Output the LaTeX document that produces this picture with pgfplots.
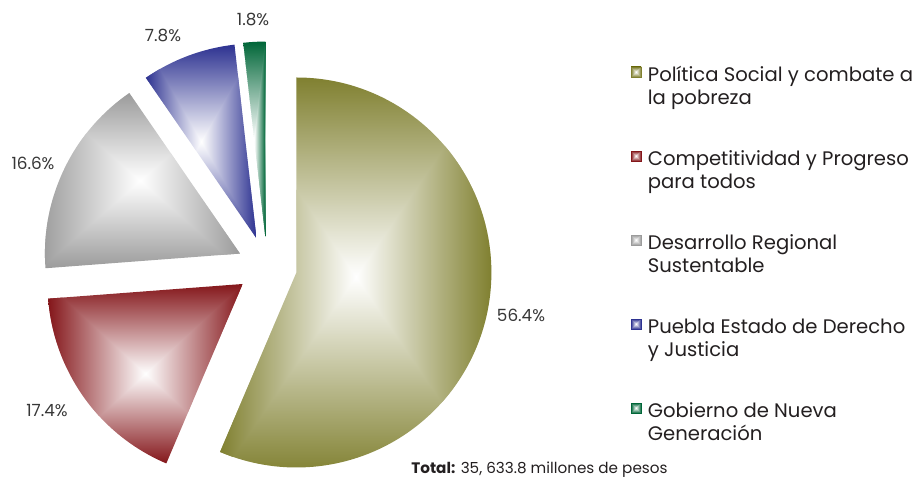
\documentclass[border=0pt]{standalone}
\usepackage{pgfplots}
\pgfplotsset{compat=1.18}
\usepackage{pgfplotstable}
\usepackage{fontspec}
\setmainfont{Poppins}

\definecolor{cA}{RGB}{128,128,48}
\definecolor{cB}{RGB}{132,22,26}
\definecolor{cC}{RGB}{155,155,155}
\definecolor{cD}{RGB}{45,50,145}
\definecolor{cE}{RGB}{0,102,56}
\definecolor{txt}{RGB}{35,31,32}
\definecolor{lab}{RGB}{55,55,55}

\newcommand\labfont{\fontsize{8.4bp}{10bp}\selectfont}
\newcommand\legfont{\fontsize{9.8bp}{12bp}\selectfont}
\newcommand\totfont{\fontsize{7.6bp}{9bp}\selectfont}

% white centre, colour at the box edges
\tikzset{pyr/.style={path picture={
  \shade[top color=#1, bottom color=#1, middle color=white]
    (path picture bounding box.south west) rectangle (path picture bounding box.north east);
  \shade[left color=#1, right color=white] (path picture bounding box.center)
    -- (path picture bounding box.north west) -- (path picture bounding box.south west) -- cycle;
  \shade[left color=white, right color=#1] (path picture bounding box.center)
    -- (path picture bounding box.north east) -- (path picture bounding box.south east) -- cycle;
}}}

% share (%), explode (px), colour, label position (px)
\pgfplotstableread{
pct   expl  colr  lx   ly
56.4  30    cA    521  315
17.4  30    cB    47   411
16.6  30    cC    33   163
7.8   30    cD    163  36
1.8   30    cE    253  20
}\piedata

\begin{document}
\begin{tikzpicture}
\begin{axis}[
    hide axis,
    scale only axis,
    width=459.5bp, height=239.5bp,
    xmin=0, xmax=919, ymin=0, ymax=479,
    y dir=reverse,
    clip=false,
]
\path (axis cs:0,0) (axis cs:919,479);

\def\pstart{90}
\pgfplotsforeachungrouped \k in {0,...,4}{%
  \pgfplotstablegetelem{\k}{pct}\of\piedata \let\pct\pgfplotsretval
  \pgfplotstablegetelem{\k}{expl}\of\piedata \let\expl\pgfplotsretval
  \pgfplotstablegetelem{\k}{colr}\of\piedata \let\colr\pgfplotsretval
  \pgfplotstablegetelem{\k}{lx}\of\piedata \let\lx\pgfplotsretval
  \pgfplotstablegetelem{\k}{ly}\of\piedata \let\ly\pgfplotsretval
  \pgfmathsetmacro\pend{\pstart-3.6*\pct}
  \pgfmathsetmacro\pmid{(\pstart+\pend)/2}
  \pgfmathsetmacro\ax{267+\expl*cos(\pmid)}
  \pgfmathsetmacro\ay{266.5-\expl*sin(\pmid)}
  \pgfmathsetmacro\sy{67+84*\k}
  \edef\cmd{%
    \noexpand\fill[white, pyr=\colr] (axis cs:\ax,\ay) -- ++(\pstart:97.5bp)
      arc[start angle=\pstart, end angle=\pend, radius=97.5bp] -- cycle;
    \noexpand\node[font=\noexpand\labfont, text=lab] at (axis cs:\lx,\ly) {\pct\noexpand\%};
    \noexpand\fill[white, pyr=\colr] (axis cs:631,\sy) rectangle (axis cs:641,\sy+10);
    \noexpand\draw[\colr, line width=.4bp] (axis cs:631,\sy) rectangle (axis cs:641,\sy+10);
  }\cmd
  \let\pstart\pend
}

\node[anchor=base west, font=\totfont, text=txt, inner sep=0pt] at (axis cs:411,473)
  {\textbf{Total:} 35, 633.8 millones de pesos};

\tikzset{lg/.style={anchor=base west, font=\legfont, text=txt, inner sep=0pt}}
\node[lg] at (axis cs:647.5,81)  {Política Social y combate a};
\node[lg] at (axis cs:647.5,104) {la pobreza};
\node[lg] at (axis cs:647.5,165) {Competitividad y Progreso};
\node[lg] at (axis cs:647.5,188) {para todos};
\node[lg] at (axis cs:647.5,249) {Desarrollo Regional};
\node[lg] at (axis cs:647.5,272) {Sustentable};
\node[lg] at (axis cs:647.5,333) {Puebla Estado de Derecho};
\node[lg] at (axis cs:647.5,356) {y Justicia};
\node[lg] at (axis cs:647.5,417) {Gobierno de Nueva};
\node[lg] at (axis cs:647.5,440) {Generación};
\end{axis}
\end{tikzpicture}
\end{document}
